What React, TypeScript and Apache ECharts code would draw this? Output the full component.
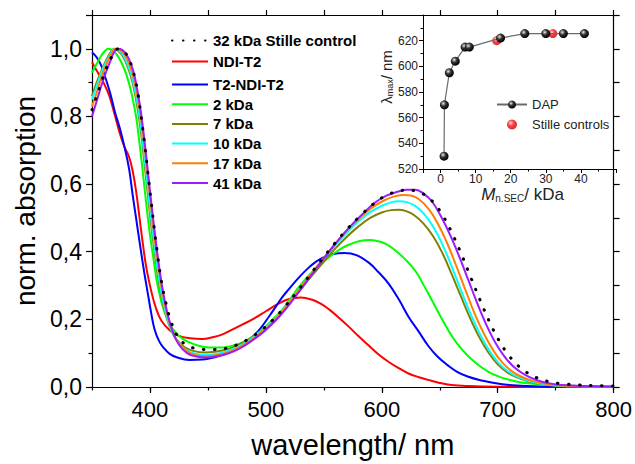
import React, { useEffect, useRef } from "react";
import * as echarts from "echarts";

// ---- main chart data: [wavelength (nm), normalized absorption] ----
const stille32: number[][] = [[350,0.82],[354,0.86],[358,0.9],[362,0.94],[366,0.97],[370,0.995],[373,1.0],[377,0.995],[381,0.975],[385,0.94],[389,0.88],[392,0.81],[395,0.73],[398,0.64],[401,0.55],[404,0.46],[407,0.38],[410,0.31],[414,0.245],[418,0.195],[423,0.155],[430,0.127],[438,0.115],[447,0.111],[456,0.111],[466,0.115],[476,0.126],[486,0.144],[496,0.168],[506,0.198],[516,0.236],[526,0.278],[537,0.327],[548,0.376],[560,0.427],[571,0.47],[582,0.508],[593,0.542],[603,0.565],[613,0.578],[621,0.582],[629,0.58],[637,0.568],[645,0.544],[653,0.505],[661,0.452],[669,0.39],[677,0.322],[685,0.255],[693,0.192],[701,0.138],[709,0.096],[717,0.065],[725,0.043],[734,0.027],[744,0.016],[755,0.01],[770,0.006],[785,0.004],[800,0.003]];
const ndiT2: number[][] = [[350,0.96],[355,0.93],[360,0.9],[365,0.86],[370,0.8],[374,0.75],[378,0.71],[382,0.68],[385,0.64],[388,0.58],[391,0.5],[394,0.42],[397,0.35],[401,0.285],[405,0.235],[410,0.195],[417,0.168],[425,0.151],[435,0.144],[445,0.142],[455,0.148],[462,0.155],[470,0.168],[480,0.185],[490,0.203],[500,0.224],[510,0.245],[520,0.26],[530,0.265],[540,0.258],[548,0.245],[555,0.228],[563,0.205],[571,0.18],[580,0.15],[589,0.122],[597,0.097],[606,0.074],[615,0.055],[623,0.04],[632,0.029],[640,0.021],[650,0.012],[660,0.006],[675,0.003],[700,0.001],[750,0],[800,0]];
const t2NdiT2: number[][] = [[350,0.99],[354,0.975],[358,0.95],[362,0.91],[366,0.865],[370,0.81],[374,0.765],[378,0.71],[382,0.645],[385,0.57],[388,0.5],[391,0.43],[395,0.34],[398,0.28],[401,0.22],[404,0.17],[408,0.135],[412,0.115],[417,0.098],[423,0.088],[434,0.08],[445,0.081],[451,0.084],[460,0.092],[468,0.103],[477,0.12],[486,0.141],[495,0.172],[503,0.21],[509,0.24],[514,0.265],[520,0.29],[528,0.322],[536,0.35],[543,0.37],[550,0.384],[558,0.393],[568,0.396],[578,0.39],[589,0.367],[597,0.34],[606,0.305],[615,0.257],[623,0.208],[632,0.163],[640,0.122],[648,0.09],[657,0.064],[665,0.045],[674,0.031],[685,0.02],[697,0.012],[710,0.006],[725,0.003],[750,0.001],[800,0]];
const kda2: number[][] = [[350,0.93],[354,0.955],[358,0.98],[361,0.993],[364,1.0],[368,0.995],[372,0.98],[376,0.955],[380,0.92],[384,0.87],[388,0.8],[391,0.72],[394,0.63],[397,0.535],[400,0.45],[403,0.38],[406,0.31],[410,0.25],[414,0.208],[418,0.18],[423,0.158],[428,0.143],[434,0.132],[442,0.122],[451,0.117],[462,0.117],[471,0.122],[480,0.132],[489,0.15],[497,0.17],[505,0.197],[514,0.228],[522,0.265],[529,0.298],[540,0.34],[552,0.377],[562,0.403],[571,0.42],[581,0.432],[590,0.435],[600,0.428],[606,0.418],[612,0.403],[620,0.378],[629,0.343],[636,0.302],[643,0.258],[650,0.213],[657,0.17],[665,0.128],[674,0.093],[683,0.066],[692,0.045],[700,0.032],[709,0.022],[718,0.015],[726,0.011],[740,0.007],[760,0.004],[800,0.002]];
const kda7: number[][] = [[350,0.86],[354,0.9],[358,0.935],[362,0.965],[366,0.99],[369,1.0],[373,0.993],[377,0.975],[381,0.945],[385,0.9],[389,0.83],[392,0.76],[395,0.67],[398,0.575],[401,0.48],[404,0.4],[407,0.325],[410,0.265],[414,0.21],[418,0.17],[423,0.14],[430,0.117],[438,0.106],[447,0.102],[456,0.104],[466,0.111],[476,0.124],[486,0.142],[496,0.165],[506,0.195],[516,0.232],[526,0.272],[537,0.318],[548,0.363],[560,0.41],[571,0.448],[580,0.475],[590,0.5],[600,0.516],[608,0.523],[614,0.524],[621,0.52],[628,0.508],[636,0.483],[644,0.447],[652,0.398],[660,0.336],[668,0.27],[676,0.205],[684,0.148],[692,0.102],[700,0.067],[708,0.044],[716,0.029],[726,0.017],[738,0.009],[752,0.004],[770,0.002],[800,0.001]];
const kda10: number[][] = [[350,0.85],[354,0.89],[358,0.93],[362,0.96],[366,0.985],[369,1.0],[373,0.996],[377,0.98],[381,0.952],[385,0.91],[389,0.845],[392,0.775],[395,0.69],[398,0.595],[401,0.5],[404,0.415],[407,0.34],[410,0.275],[414,0.215],[418,0.172],[423,0.138],[430,0.112],[438,0.099],[447,0.095],[456,0.097],[466,0.105],[476,0.119],[486,0.139],[496,0.164],[506,0.196],[516,0.235],[526,0.277],[537,0.325],[548,0.372],[560,0.42],[571,0.46],[580,0.49],[590,0.517],[600,0.536],[608,0.546],[615,0.549],[622,0.546],[629,0.535],[637,0.51],[645,0.47],[653,0.416],[661,0.35],[669,0.28],[677,0.213],[685,0.154],[693,0.106],[701,0.07],[709,0.046],[717,0.03],[727,0.018],[739,0.009],[753,0.004],[770,0.002],[800,0.001]];
const kda17: number[][] = [[350,0.83],[354,0.87],[358,0.915],[362,0.95],[366,0.98],[370,1.0],[374,0.997],[378,0.983],[382,0.956],[386,0.912],[390,0.845],[393,0.775],[396,0.69],[399,0.595],[402,0.5],[405,0.415],[408,0.34],[411,0.275],[415,0.212],[419,0.168],[424,0.133],[431,0.108],[439,0.095],[448,0.091],[457,0.094],[467,0.102],[477,0.117],[487,0.138],[497,0.164],[507,0.197],[517,0.237],[527,0.28],[538,0.33],[549,0.378],[560,0.425],[571,0.467],[581,0.5],[591,0.529],[601,0.55],[610,0.563],[618,0.568],[625,0.566],[632,0.555],[640,0.528],[648,0.485],[656,0.428],[664,0.36],[672,0.288],[680,0.218],[688,0.158],[696,0.109],[704,0.072],[712,0.047],[720,0.031],[730,0.018],[742,0.009],[756,0.004],[775,0.002],[800,0.001]];
const kda41: number[][] = [[350,0.8],[354,0.845],[358,0.89],[362,0.93],[366,0.965],[369,0.99],[372,1.0],[376,0.997],[380,0.982],[384,0.952],[387,0.915],[391,0.84],[394,0.765],[397,0.675],[400,0.58],[403,0.49],[406,0.405],[409,0.33],[412,0.268],[416,0.205],[420,0.16],[425,0.125],[432,0.1],[440,0.09],[449,0.087],[458,0.091],[468,0.1],[478,0.115],[488,0.137],[498,0.163],[508,0.195],[518,0.234],[528,0.279],[539,0.33],[550,0.38],[561,0.428],[572,0.472],[583,0.51],[594,0.545],[604,0.566],[614,0.578],[622,0.583],[629,0.583],[636,0.572],[643,0.55],[651,0.505],[659,0.449],[667,0.384],[675,0.313],[683,0.242],[691,0.178],[699,0.125],[707,0.085],[715,0.056],[724,0.035],[734,0.02],[746,0.01],[760,0.005],[780,0.002],[800,0.001]];

// ---- inset data: Mn,SEC (kDa) vs lambda max (nm) ----
const dapMn = [1.0, 1.1, 2.5, 4.2, 7.0, 8.2, 17.1, 24, 30, 35, 41];
const dapLambda = [530, 570, 595, 604, 615, 615, 622, 625.5, 625.5, 625.5, 625.5];
const stilleMn = [16, 32];
const stilleLambda = [620, 625.5];

const seriesNames = ["32 kDa Stille control", "NDI-T2", "T2-NDI-T2", "2 kDa", "7 kDa", "10 kDa", "17 kDa", "41 kDa"];

const FONT = "Liberation Sans, Arial, sans-serif";

export default function App() {
  const ref = useRef<HTMLDivElement>(null);
  useEffect(() => {
    if (!ref.current) return;
    const chart = echarts.init(ref.current, undefined, { renderer: "svg" });
    const blackBall = {
      type: "radial", x: 0.38, y: 0.35, r: 0.65,
      colorStops: [{ offset: 0, color: "#e8e8e8" }, { offset: 0.45, color: "#333" }, { offset: 1, color: "#000" }],
    };
    const redBall = {
      type: "radial", x: 0.38, y: 0.35, r: 0.65,
      colorStops: [{ offset: 0, color: "#ffd8d8" }, { offset: 0.45, color: "#ff1010" }, { offset: 1, color: "#c00000" }],
    };
    const mkLine = (name: string, data: number[][], color: string, extra: any = {}) => ({
      name, type: "line", data, xAxisIndex: 0, yAxisIndex: 0, symbol: "none", smooth: 0.4,
      lineStyle: { color, width: 2 }, itemStyle: { color }, ...extra,
    });
    const mainLegendText = { fontFamily: FONT, fontWeight: "bold", fontSize: 15, color: "#000", lineHeight: 14 };
    const tickStyle = { color: "#000", width: 1.2 };
    const option: any = {
      animation: false,
      textStyle: { fontFamily: FONT },
      grid: [
        { left: 92, right: 19, top: 15, bottom: 65 },
        { left: 423, right: 19, top: 15, bottom: 295 },
      ],
      legend: [
        {
          data: seriesNames.slice(0, 2), orient: "vertical", left: 166, top: 28,
          itemWidth: 36, itemHeight: 14, itemGap: 6, itemStyle: { opacity: 0 },
          textStyle: mainLegendText,
        },
        {
          data: seriesNames.slice(2), orient: "vertical", left: 166, top: 72,
          itemWidth: 36, itemHeight: 14, itemGap: 4.7, itemStyle: { opacity: 0 },
          textStyle: mainLegendText,
        },
        {
          data: ["DAP", "Stille controls"], orient: "vertical", left: 491, top: 93,
          itemWidth: 30, itemHeight: 10, itemGap: 7,
          textStyle: { fontFamily: FONT, fontSize: 13, color: "#222", lineHeight: 13 },
        },
      ],
      xAxis: [
        {
          // major ticks + labels (auto interval of 100, starting at 350 extent)
          type: "value", gridIndex: 0, position: "bottom", min: 350, max: 800,
          axisLine: { lineStyle: tickStyle },
          axisTick: { show: true, length: 6, lineStyle: tickStyle },
          splitLine: { show: false },
          axisLabel: { fontSize: 22, color: "#000", margin: 11, fontFamily: FONT, showMinLabel: false },
          name: "wavelength/ nm", nameLocation: "middle", nameGap: 43,
          nameTextStyle: { fontSize: 29, color: "#000", fontFamily: FONT },
        },
        {
          // minor ticks every 50 on the bottom
          type: "value", gridIndex: 0, position: "bottom", min: 350, max: 800, interval: 50,
          axisLine: { show: false },
          axisTick: { show: true, length: 3.5, lineStyle: tickStyle },
          splitLine: { show: false }, axisLabel: { show: false },
        },
        {
          type: "value", gridIndex: 0, position: "top", min: 350, max: 800, interval: 50,
          axisLine: { lineStyle: tickStyle },
          axisTick: { show: true, length: 5, lineStyle: tickStyle },
          splitLine: { show: false }, axisLabel: { show: false },
        },
        {
          type: "value", gridIndex: 1, position: "bottom", min: -5, max: 50,
          axisLine: { onZero: false, lineStyle: { color: "#000", width: 1 } },
          axisTick: { show: true, length: 4, lineStyle: { color: "#000" } },
          minorTick: { show: true, splitNumber: 2, length: 2.5, lineStyle: { color: "#000" } },
          splitLine: { show: false },
          axisLabel: {
            fontSize: 12, color: "#222", margin: 4, fontFamily: FONT, showMinLabel: false, showMaxLabel: false,
            formatter: (v: number) => (v % 10 === 0 ? String(v) : ""),
          },
          name: "{i|M}{s|n.SEC}{n|/ kDa}", nameLocation: "middle", nameGap: 13,
          nameTextStyle: {
            padding: [0, 0, 0, 6],
            rich: {
              i: { fontSize: 17, fontStyle: "italic", color: "#222", fontFamily: FONT },
              s: { fontSize: 10, color: "#222", fontFamily: FONT, verticalAlign: "bottom", padding: [8, 0, 0, 0] },
              n: { fontSize: 17, color: "#222", fontFamily: FONT },
            },
          },
        },
      ],
      yAxis: [
        {
          type: "value", gridIndex: 0, position: "left", min: 0, max: 1.1, interval: 0.2,
          axisLine: { show: true, lineStyle: tickStyle },
          axisTick: { show: true, length: 6, lineStyle: tickStyle },
          minorTick: { show: true, splitNumber: 2, length: 3.5, lineStyle: tickStyle },
          splitLine: { show: false },
          axisLabel: {
            fontSize: 23, color: "#000", margin: 10, fontFamily: FONT, showMaxLabel: false,
            formatter: (v: number) => v.toFixed(1).replace(".", ","),
          },
          name: "norm. absorption", nameLocation: "middle", nameGap: 52,
          nameTextStyle: { fontSize: 28, color: "#000", fontFamily: FONT },
        },
        {
          type: "value", gridIndex: 0, position: "right", min: 0, max: 1.1, interval: 0.2,
          axisLine: { show: true, lineStyle: tickStyle },
          axisTick: { show: true, length: 6, lineStyle: tickStyle },
          minorTick: { show: true, splitNumber: 2, length: 6, lineStyle: tickStyle },
          splitLine: { show: false }, axisLabel: { show: false },
        },
        {
          type: "value", gridIndex: 1, position: "left", min: 520, max: 640, interval: 20,
          axisLine: { show: true, onZero: false, lineStyle: { color: "#000", width: 1 } },
          axisTick: { show: true, length: 4, lineStyle: { color: "#000" } },
          minorTick: { show: true, splitNumber: 2, length: 2.5, lineStyle: { color: "#000" } },
          splitLine: { show: false },
          axisLabel: { fontSize: 12, color: "#222", margin: 5, fontFamily: FONT, showMaxLabel: false },
          name: "{a|λ}{s|max}{a|/ nm}", nameLocation: "middle", nameGap: 26,
          nameTextStyle: {
            padding: [0, 0, 0, 30],
            rich: {
              a: { fontSize: 15, color: "#222", fontFamily: FONT },
              s: { fontSize: 9, color: "#222", fontFamily: FONT, verticalAlign: "bottom", padding: [6, 0, 0, 0] },
            },
          },
        },
      ],
      series: [
        mkLine(seriesNames[1], ndiT2, "#ff0000"),
        mkLine(seriesNames[2], t2NdiT2, "#0000ff"),
        mkLine(seriesNames[3], kda2, "#00ff00"),
        mkLine(seriesNames[4], kda7, "#808000"),
        mkLine(seriesNames[5], kda10, "#00ffff"),
        mkLine(seriesNames[6], kda17, "#ff8000"),
        mkLine(seriesNames[7], kda41, "#9b1cff"),
        mkLine(seriesNames[0], stille32, "#000000", {
          lineStyle: { color: "#000", width: 3, type: [0.5, 10.5], cap: "round" },
          z: 3,
        }),
        {
          name: "DAP", type: "line", xAxisIndex: 3, yAxisIndex: 2,
          data: dapMn.map((x, i) => [x, dapLambda[i]]),
          symbol: "circle", symbolSize: 9, showSymbol: true,
          lineStyle: { color: "#6a6a6a", width: 1.2 },
          itemStyle: { color: blackBall, borderWidth: 0 },
        },
        {
          name: "Stille controls", type: "scatter", xAxisIndex: 3, yAxisIndex: 2,
          data: stilleMn.map((x, i) => [x, stilleLambda[i]]),
          symbol: "circle", symbolSize: 9,
          itemStyle: { color: redBall, borderWidth: 0 },
        },
      ],
    };
    chart.setOption(option);
    return () => chart.dispose();
  }, []);
  return <div ref={ref} style={{ width: 635, height: 464, position: "absolute", left: 0, top: 0, background: "#fff" }} />;
}
